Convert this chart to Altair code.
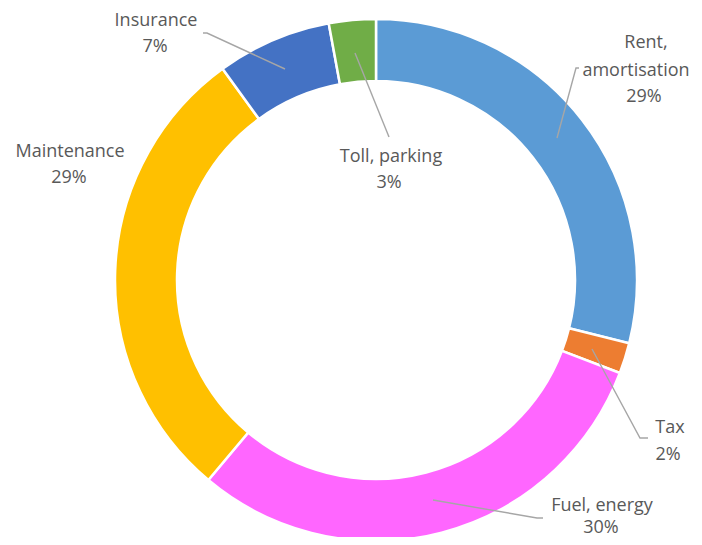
import altair as alt
import pandas as pd

# ---- data ----
categories = ["Rent, amortisation", "Tax", "Fuel, energy", "Maintenance", "Insurance", "Toll, parking"]
shares = [28.9, 1.9, 30.3, 28.9, 7.1, 2.9]
pct_labels = ["29%", "2%", "30%", "29%", "7%", "3%"]
colors = ["#5B9BD5", "#ED7D31", "#FF66FF", "#FFC000", "#4472C4", "#70AD47"]

# label text lines (one entry per printed line)
label_lines = [
    ["Rent,", "amortisation", pct_labels[0]],
    ["Tax", pct_labels[1]],
    ["Fuel, energy", pct_labels[2]],
    ["Maintenance", pct_labels[3]],
    ["Insurance", pct_labels[4]],
    ["Toll, parking", pct_labels[5]],
]

# ---- layout (page pixel coordinates for annotations) ----
W, H = 686, 529
CX, CY = 368, 272
R_OUT, R_IN = 261, 199
label_pos = [
    [(646, 43), (636, 71), (644, 97)],
    [(670, 428), (668, 455)],
    [(602, 506), (601, 528)],
    [(70, 152), (69, 178)],
    [(156, 21), (155, 47)],
    [(391, 157), (389, 183)],
]
leaders = [
    [(557, 138), (576, 68), (579, 68)],
    [(592, 349), (640, 438), (648, 438)],
    [(433, 500), (537, 518), (543, 518)],
    None,
    [(285, 69), (207, 33), (203, 33)],
    [(355, 53), (389, 137)],
]

df = pd.DataFrame({"cat": categories, "share": shares, "idx": list(range(len(categories)))})

rows = []
for i, (lines, poss) in enumerate(zip(label_lines, label_pos)):
    for t, (x, y) in zip(lines, poss):
        rows.append({"t": t, "x": x, "y": y})
lab = pd.DataFrame(rows)

lrows = []
for i, pts in enumerate(leaders):
    if pts is None:
        continue
    for j, (x, y) in enumerate(pts):
        lrows.append({"g": categories[i], "o": j, "x": x, "y": y})
ldf = pd.DataFrame(lrows)

xs = alt.Scale(domain=[8, 8 + W], range=[0, W])
ys = alt.Scale(domain=[8, 8 + H], range=[0, H])

arc = alt.Chart(df).mark_arc(
    outerRadius=R_OUT, innerRadius=R_IN, stroke="white", strokeWidth=2.5
).encode(
    theta=alt.Theta("share:Q", stack=True),
    order=alt.Order("idx:Q"),
    color=alt.Color("cat:N", scale=alt.Scale(domain=categories, range=colors), legend=None),
    x=alt.value(CX),
    y=alt.value(CY),
)

lines = alt.Chart(ldf).mark_line(color="#A6A6A6", strokeWidth=1.4).encode(
    x=alt.X("x:Q", scale=xs, axis=None),
    y=alt.Y("y:Q", scale=ys, axis=None),
    detail="g:N",
    order="o:Q",
)

text = alt.Chart(lab).mark_text(
    font="Open Sans", fontSize=18, color="#595959", align="center", baseline="middle"
).encode(
    x=alt.X("x:Q", scale=xs, axis=None),
    y=alt.Y("y:Q", scale=ys, axis=None),
    text="t:N",
)

chart = alt.layer(arc, lines, text).properties(
    width=W, height=H, autosize=alt.AutoSizeParams(type="none"), padding=0
).configure_view(stroke=None)

chart.save("out.html", embed_options={"renderer": "svg", "actions": False})
